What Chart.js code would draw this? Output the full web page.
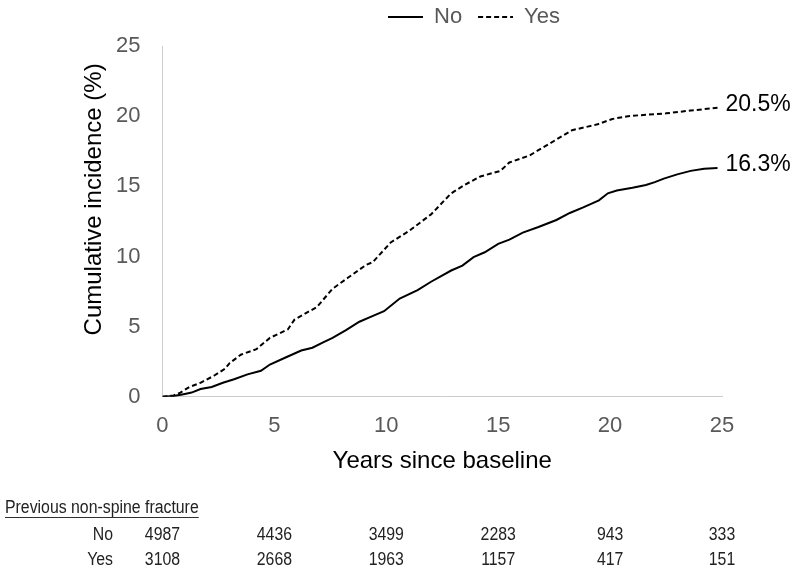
<!DOCTYPE html>
<html>
<head>
<meta charset="utf-8">
<script src="https://cdn.jsdelivr.net/npm/chart.js@4.4.1/dist/chart.umd.min.js"></script>
<style>
	html, body { margin: 0; padding: 0; background: #fff; }
	#wrap { width: 800px; height: 578px; }
</style>
</head>
<body>
<div id="wrap"><canvas id="chart" width="800" height="578"></canvas></div>
<script>
// curve data
const seriesNames = ['No', 'Yes'];
const noYears = [0, 0.5, 1.0, 1.3, 1.7, 2.2, 2.7, 3.2, 3.8, 4.4, 4.8, 5.5, 6.2, 6.7, 7.2, 7.6, 8.2, 8.8, 9.3, 9.9,
	10.6, 11.4, 12.0, 12.9, 13.4, 13.9, 14.4, 15.0, 15.5, 16.1, 16.8, 17.6, 18.2, 18.8, 19.5, 19.9,
	20.3, 21.0, 21.6, 22.0, 22.4, 23.0, 23.6, 24.2, 24.8];
const noValues = [0, 0.05, 0.2, 0.3, 0.55, 0.7, 1.0, 1.25, 1.6, 1.85, 2.3, 2.8, 3.3, 3.5, 3.9, 4.2, 4.75, 5.35, 5.7, 6.1,
	7.0, 7.6, 8.2, 9.0, 9.35, 9.95, 10.3, 10.9, 11.2, 11.7, 12.1, 12.6, 13.1, 13.5, 14.0, 14.5,
	14.7, 14.9, 15.1, 15.3, 15.55, 15.85, 16.1, 16.25, 16.3];
const yesYears = [0, 0.5, 0.8, 1.2, 1.7, 2.3, 2.8, 3.0, 3.5, 4.2, 4.8, 5.6, 5.9, 6.9, 7.6, 8.3, 9.1, 9.4, 10.2,
	11.0, 12.0, 12.6, 12.9, 13.5, 14.2, 15.1, 15.5, 16.4, 17.3, 18.3, 19.4, 20.1, 20.8, 21.6, 22.5, 23.6, 24.8];
const yesValues = [0, 0.1, 0.3, 0.7, 1.0, 1.5, 2.0, 2.4, 3.0, 3.4, 4.2, 4.8, 5.5, 6.4, 7.7, 8.5, 9.4, 9.6, 11.0,
	11.8, 13.0, 14.0, 14.5, 15.1, 15.7, 16.1, 16.7, 17.2, 18.05, 19.0, 19.4, 19.8, 20.0, 20.1, 20.2, 20.4, 20.6];
const endLabels = ['16.3%', '20.5%'];

// number at risk table
const tableTitle = 'Previous non-spine fracture';
const tableYears = [0, 5, 10, 15, 20, 25];
const atRiskNo = [4987, 4436, 3499, 2283, 943, 333];
const atRiskYes = [3108, 2668, 1963, 1157, 417, 151];

const FONT = '"Liberation Sans", Arial, sans-serif';
const GREY = '#595959';
const DASH = [5, 3];

const toPoints = (xs, ys) => xs.map((x, i) => ({ x: x, y: ys[i] }));

// little line swatch for the legend (keeps the dash)
function swatch(dash) {
	const c = document.createElement('canvas');
	c.width = 35;
	c.height = 4;
	const g = c.getContext('2d');
	g.strokeStyle = '#000';
	g.lineWidth = 2;
	g.setLineDash(dash);
	g.beginPath();
	g.moveTo(0, 2);
	g.lineTo(35, 2);
	g.stroke();
	return c;
}

// moves the legend over the plot, like the original
const legendShift = {
	id: 'legendShift',
	afterLayout(chart) {
		const lg = chart.legend;
		lg.left += 66; lg.right += 66;
		lg.top -= 8; lg.bottom -= 8;
	}
};

const extras = {
	id: 'extras',
	afterDatasetsDraw(chart) {
		const ctx = chart.ctx;
		ctx.save();
		ctx.font = '23px ' + FONT;
		ctx.fillStyle = '#000';
		ctx.textAlign = 'left';
		ctx.textBaseline = 'middle';
		chart.data.datasets.forEach((ds, i) => {
			const pts = chart.getDatasetMeta(i).data;
			const last = pts[pts.length - 1];
			ctx.fillText(endLabels[i], last.x + 8, last.y - 3);
		});
		ctx.restore();
	},
	afterDraw(chart) {
		const ctx = chart.ctx;
		const area = chart.chartArea;
		const xs = chart.scales.x;
		ctx.save();

		// y axis title
		ctx.translate(area.left - 68, (area.top + area.bottom) / 2 - 22);
		ctx.rotate(-Math.PI / 2);
		ctx.font = '24px ' + FONT;
		ctx.fillStyle = '#000';
		ctx.textAlign = 'center';
		ctx.textBaseline = 'middle';
		ctx.fillText('Cumulative incidence (%)', 0, 0);
		ctx.setTransform(1, 0, 0, 1, 0, 0);

		// table, narrow type
		const sx = 0.88;
		ctx.scale(sx, 1);
		ctx.font = '18px ' + FONT;
		ctx.fillStyle = '#222';
		ctx.textBaseline = 'middle';
		ctx.textAlign = 'left';
		ctx.fillText(tableTitle, 5 / sx, 508);
		const w = ctx.measureText(tableTitle).width;
		ctx.strokeStyle = '#222';
		ctx.lineWidth = 1;
		ctx.beginPath();
		ctx.moveTo(5 / sx, 517.5);
		ctx.lineTo(5 / sx + w, 517.5);
		ctx.stroke();

		const rows = [atRiskNo, atRiskYes];
		const rowY = [535, 560];
		rows.forEach((vals, r) => {
			ctx.textAlign = 'right';
			ctx.fillText(seriesNames[r], 113 / sx, rowY[r]);
			ctx.textAlign = 'center';
			vals.forEach((v, i) => {
				ctx.fillText(String(v), xs.getPixelForValue(tableYears[i]) / sx, rowY[r]);
			});
		});
		ctx.restore();
	}
};

new Chart(document.getElementById('chart'), {
	type: 'line',
	data: {
		datasets: [
			{
				label: seriesNames[0],
				data: toPoints(noYears, noValues),
				borderColor: '#000',
				backgroundColor: '#000',
				borderWidth: 2,
				pointRadius: 0,
				pointStyle: swatch([]),
				tension: 0,
				fill: false
			},
			{
				label: seriesNames[1],
				data: toPoints(yesYears, yesValues),
				borderColor: '#000',
				backgroundColor: '#000',
				borderWidth: 2,
				borderDash: DASH,
				pointRadius: 0,
				pointStyle: swatch(DASH),
				tension: 0,
				fill: false
			}
		]
	},
	options: {
		responsive: false,
		animation: false,
		layout: {
			padding: { top: -2, left: 94, right: 78, bottom: 102 }
		},
		plugins: {
			tooltip: { enabled: false },
			legend: {
				position: 'top',
				labels: {
					usePointStyle: true,
					pointStyleWidth: 35,
					padding: 16,
					color: GREY,
					font: { family: FONT, size: 22 }
				}
			}
		},
		scales: {
			x: {
				type: 'linear',
				min: 0,
				max: 25,
				grid: { display: false, drawTicks: false },
				border: { color: '#cccccc', width: 1 },
				ticks: {
					stepSize: 5,
					padding: 16,
					color: GREY,
					font: { family: FONT, size: 22 }
				},
				title: {
					display: true,
					text: 'Years since baseline',
					color: '#000',
					font: { family: FONT, size: 24 },
					padding: { top: -8, bottom: 0 }
				}
			},
			y: {
				min: 0,
				max: 25,
				grid: { display: false, drawTicks: false },
				border: { color: '#cccccc', width: 1 },
				ticks: {
					stepSize: 5,
					padding: 22,
					color: GREY,
					font: { family: FONT, size: 22 }
				}
			}
		}
	},
	plugins: [legendShift, extras]
});
</script>
</body>
</html>
